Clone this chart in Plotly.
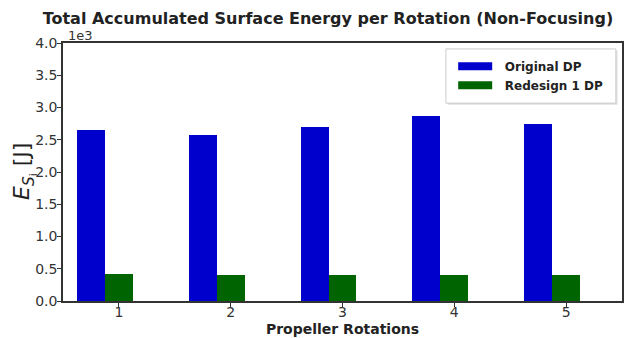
import plotly.graph_objects as go

rotations = [1, 2, 3, 4, 5]
original_dp = [2651, 2574, 2698, 2868, 2744]   # J
redesign_dp = [423, 408, 408, 408, 408]        # J
y_ticks = [0.0, 0.5, 1.0, 1.5, 2.0, 2.5, 3.0, 3.5, 4.0]

scale = 1000.0
bar_w = 0.25
blue = "#0000CD"
green = "#006400"
dark = "#333333"
font = "DejaVu Sans"
nb = "\u00a0\u00a0"

fig = go.Figure()
fig.add_trace(go.Bar(x=[r - bar_w for r in rotations], y=[v / scale for v in original_dp],
                     width=bar_w, marker=dict(color=blue, line=dict(width=0)),
                     name="Original DP", showlegend=False))
fig.add_trace(go.Bar(x=rotations, y=[v / scale for v in redesign_dp],
                     width=bar_w, marker=dict(color=green, line=dict(width=0)),
                     name="Redesign 1 DP", showlegend=False))
# legend swatches
fig.add_trace(go.Scatter(x=[None], y=[None], mode="lines", line=dict(color=blue, width=8),
                         name=nb + "<b>Original DP</b>"))
fig.add_trace(go.Scatter(x=[None], y=[None], mode="lines", line=dict(color=green, width=8),
                         name=nb + "<b>Redesign 1 DP</b>"))

fig.update_layout(
    width=634, height=330,
    margin=dict(l=55, r=20, t=35, b=37, autoexpand=False),
    paper_bgcolor="white", plot_bgcolor="white",
    font=dict(family=font, color=dark),
    title=dict(text="<b>Total Accumulated Surface Energy per Rotation (Non-Focusing)</b>",
               x=0.474, xref="paper", xanchor="center", y=0.970, yref="container",
               yanchor="middle", font=dict(size=16, color="#222222")),
    bargap=0,
    barmode="overlay",
    showlegend=True,
    legend=dict(x=0.698, y=0.966, xanchor="left", yanchor="top",
                bgcolor="rgba(0,0,0,0)", borderwidth=0,
                font=dict(size=12, color="#222222"),
                itemwidth=34),
    shapes=[
        dict(type="rect", xref="paper", yref="paper", x0=0.688, x1=0.992, y0=0.761, y1=0.971,
             line=dict(width=0), fillcolor="rgba(0,0,0,0.12)", layer="below"),
        dict(type="rect", xref="paper", yref="paper", x0=0.685, x1=0.989, y0=0.767, y1=0.977,
             line=dict(width=1, color="#cccccc"), fillcolor="white", layer="below"),
    ],
    xaxis=dict(range=[0.5, 5.5], tickmode="array", tickvals=rotations,
               ticktext=[str(r) for r in rotations],
               showline=True, linecolor=dark, linewidth=1.5, mirror=True,
               ticks="outside", ticklen=4, tickcolor=dark, showgrid=False, zeroline=False,
               tickfont=dict(size=14, color=dark), automargin=False, ticklabelstandoff=-7,
               title=dict(text="<b>Propeller Rotations</b>", font=dict(size=14, color="#222222"),
                          standoff=6)),
    yaxis=dict(range=[0, 4.0], tickmode="array", tickvals=y_ticks,
               ticktext=[f"{t:.1f}" for t in y_ticks],
               showline=True, linecolor=dark, linewidth=1.5, mirror=True,
               ticks="outside", ticklen=4, tickcolor=dark, showgrid=False, zeroline=False,
               tickfont=dict(size=14, color=dark), automargin=False, ticklabelstandoff=-3),
    annotations=[
        dict(text="1e3", xref="paper", yref="paper", x=0, y=1,
             xanchor="left", yanchor="bottom", showarrow=False,
             font=dict(size=13, color=dark), xshift=3, yshift=-2),
        dict(text="<i>E</i><sub><i>S</i><sub>i</sub></sub> [J]", textangle=-90,
             xref="paper", yref="paper", x=0, y=0.5, xanchor="center", yanchor="middle",
             xshift=-39, showarrow=False, font=dict(size=22, color="#222222")),
    ],
)

fig.write_html("out.html")
